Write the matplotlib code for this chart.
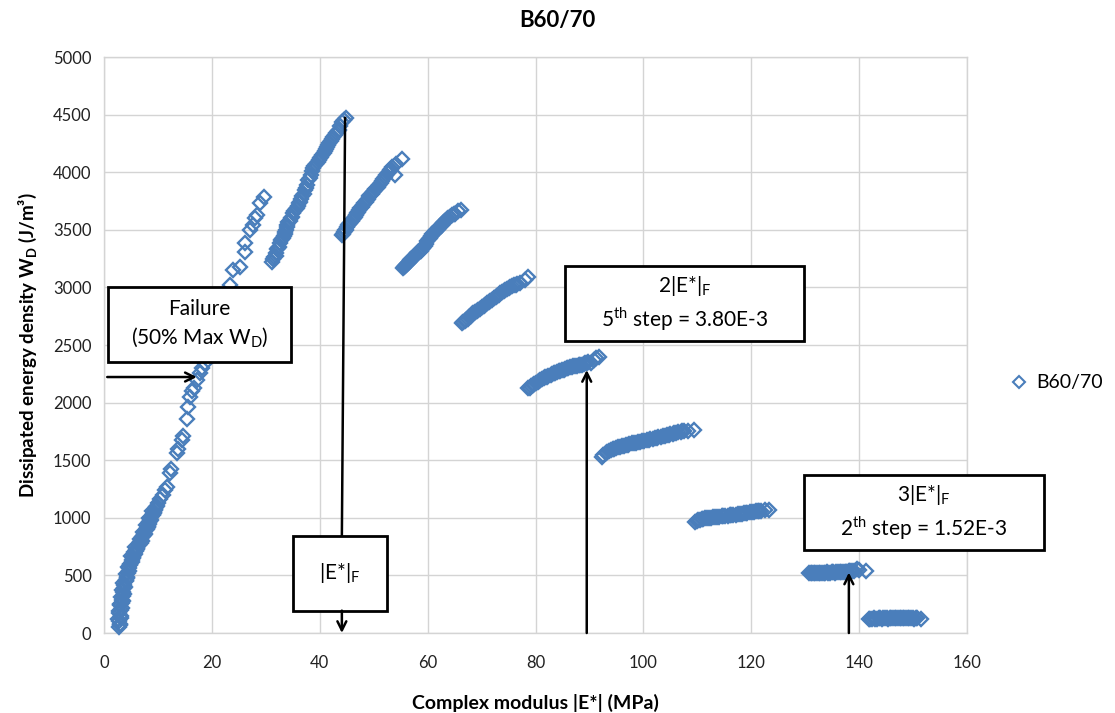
import matplotlib
matplotlib.use("Agg")
import matplotlib.pyplot as plt
from matplotlib.patches import Rectangle
from matplotlib.lines import Line2D

plt.rcParams['font.family'] = ['Lato', 'DejaVu Sans']

# ---- data (complex modulus |E*| in MPa, dissipated energy density W_D in J/m3) ----
seg1_E = [2.7, 3.0, 2.6, 3.1, 2.8, 3.3, 2.9, 3.5, 3.2, 3.7, 3.4, 3.9, 3.6, 4.1, 4.3, 4.0, 4.6, 4.4,
          4.9, 5.1, 5.4, 5.0, 5.7, 5.9, 6.2, 5.8, 6.5, 6.8, 7.1, 6.7, 7.3, 7.6, 7.2, 7.9, 8.1, 7.8,
          8.4, 8.7, 8.3, 9.0, 9.2, 8.9, 9.5, 9.8, 10.1, 10.4, 10.9, 11.3, 11.6, 12.2, 12.5, 13.5,
          13.8, 14.4, 14.7, 15.3, 15.6, 15.9, 16.3, 16.6, 17.2, 17.8, 18.2, 18.7, 19.6, 20.5, 21.4,
          22.3, 23.4, 24.0, 25.2, 26.2, 26.2, 27.1, 27.7, 28.0, 28.3, 28.9, 29.6,
          2.9, 2.8, 3.2, 2.7, 3.1, 3.0, 3.4, 3.3, 3.6, 3.5, 3.8, 3.7, 4.0, 4.2, 4.5, 4.7, 4.8, 5.2,
          5.3, 5.6, 5.5, 6.0, 6.1, 6.4, 6.6, 6.9, 7.0, 7.4, 7.5, 7.7, 8.0, 8.2, 8.3, 8.6, 8.5, 8.8,
          9.1, 9.3, 9.4, 9.7]
seg1_W = [50, 80, 120, 150, 190, 220, 250, 280, 310, 340, 370, 400, 430, 460, 490, 510, 540, 570,
          600, 630, 650, 670, 690, 710, 730, 750, 760, 780, 800, 820, 840, 860, 880, 900, 920, 940,
          960, 980, 1000, 1020, 1040, 1060, 1080, 1100, 1130, 1160, 1200, 1240, 1270, 1390, 1420, 1560,
          1600, 1675, 1710, 1860, 1965, 2050, 2100, 2125, 2200, 2255, 2300, 2340, 2480, 2620, 2760,
          2900, 3021, 3151, 3180, 3310, 3388, 3498, 3542, 3602, 3628, 3730, 3788,
          70, 100, 130, 170, 200, 240, 260, 290, 320, 360, 390, 420, 450, 480, 520, 560, 590, 620,
          660, 680, 700, 720, 740, 770, 790, 810, 830, 850, 870, 890, 910, 930, 950, 970, 990, 1010,
          1030, 1050, 1070, 1090]

seg2_E = [31.2, 31.6, 31.9, 32.3, 32.7, 33.0, 33.3, 33.6, 33.9, 34.2, 34.6, 35.1, 35.6, 36.0, 36.4,
          36.8, 37.3, 37.6, 37.9, 38.3, 38.8, 39.3, 39.8, 40.2, 40.7, 41.2, 41.6, 42.0, 42.5, 43.0,
          43.5, 43.8, 44.1, 44.5, 44.9,
          31.4, 31.8, 32.1, 32.5, 32.9, 33.2, 33.5, 33.8, 34.0, 34.4, 34.9, 35.3, 35.8, 36.2, 36.6,
          37.0, 37.5, 38.1, 38.6, 39.0, 39.6, 40.0, 40.5, 41.0, 41.4, 41.8, 42.3, 42.8, 43.3]
seg2_W = [3223, 3260, 3300, 3340, 3385, 3420, 3450, 3484, 3520, 3570, 3600, 3642, 3680, 3710, 3744,
          3790, 3845, 3890, 3932, 3980, 4034, 4070, 4106, 4135, 4164, 4200, 4236, 4270, 4308, 4340,
          4366, 4400, 4438, 4455, 4473,
          3250, 3270, 3330, 3350, 3410, 3430, 3460, 3500, 3545, 3580, 3615, 3665, 3690, 3730, 3770,
          3815, 3860, 3950, 4010, 4055, 4085, 4120, 4150, 4180, 4215, 4255, 4290, 4320, 4355]

seg3_E = [44.2, 44.5, 44.9, 45.3, 45.7, 46.1, 46.5, 46.9, 47.3, 47.8, 48.2, 48.7, 49.2, 49.6, 50.1,
          50.6, 51.0, 51.5, 52.1, 52.6, 53.0, 53.4, 54.0, 54.2, 55.2,
          44.4, 44.7, 45.1, 45.5, 45.9, 46.3, 46.7, 47.1, 47.5, 48.0, 48.5, 48.9, 49.4, 49.9, 50.3,
          50.8, 51.3, 51.8, 52.3, 52.8, 53.2]
seg3_W = [3455, 3480, 3500, 3542, 3560, 3590, 3615, 3642, 3670, 3700, 3730, 3759, 3790, 3815, 3840,
          3860, 3890, 3920, 3961, 3990, 4015, 4048, 3976, 4070, 4111,
          3465, 3495, 3520, 3550, 3580, 3600, 3630, 3655, 3685, 3715, 3745, 3770, 3805, 3830, 3850,
          3875, 3905, 3940, 3975, 4000, 4030]

seg4_E = [55.5, 55.8, 56.2, 56.6, 57.0, 57.4, 57.8, 58.3, 58.7, 59.2, 59.7, 60.2, 60.6, 61.1, 61.6,
          62.0, 62.4, 62.9, 63.3, 63.8, 64.5, 65.0, 65.6, 66.2,
          55.7, 56.0, 56.4, 56.8, 57.2, 57.6, 58.0, 58.5, 59.0, 59.5, 59.9, 60.4, 60.9, 61.3, 61.8,
          62.2, 62.7, 63.1, 63.6, 64.1, 64.8]
seg4_W = [3165, 3185, 3200, 3220, 3245, 3267, 3285, 3310, 3320, 3339, 3380, 3420, 3445, 3469, 3495,
          3510, 3530, 3556, 3580, 3600, 3628, 3640, 3660, 3672,
          3175, 3195, 3210, 3235, 3255, 3275, 3300, 3315, 3330, 3360, 3400, 3430, 3460, 3480, 3500,
          3520, 3545, 3570, 3590, 3615, 3635]

seg5_E = [66.4, 66.9, 67.4, 68.0, 68.5, 69.1, 69.7, 70.4, 71.0, 71.6, 72.3, 72.9, 73.5, 74.1, 74.7,
          75.3, 76.0, 76.6, 77.2, 78.0, 78.7,
          66.6, 67.1, 67.7, 68.3, 68.8, 69.4, 70.0, 70.7, 71.3, 72.0, 72.6, 73.2, 73.8, 74.4, 75.0,
          75.6, 76.3]
seg5_W = [2694, 2710, 2730, 2755, 2775, 2795, 2815, 2840, 2861, 2880, 2905, 2925, 2949, 2965, 2985,
          3006, 3020, 3030, 3041, 3065, 3093,
          2700, 2720, 2745, 2765, 2785, 2805, 2828, 2850, 2870, 2892, 2915, 2938, 2957, 2975, 2995,
          3012, 3025]

seg6_E = [78.7, 79.2, 79.8, 80.4, 80.9, 81.5, 82.1, 82.8, 83.4, 84.0, 84.6, 85.2, 85.8, 86.4, 87.0,
          87.7, 88.3, 88.9, 89.5, 90.2, 90.8, 91.2, 91.7,
          78.9, 79.5, 80.1, 80.6, 81.2, 81.8, 82.4, 83.1, 83.7, 84.3, 84.9, 85.5, 86.1, 86.7, 87.3,
          88.0, 88.6, 89.2, 89.8]
seg6_W = [2124, 2140, 2160, 2180, 2196, 2210, 2225, 2240, 2254, 2265, 2275, 2287, 2297, 2305, 2315,
          2320, 2326, 2335, 2345, 2341, 2370, 2385, 2398,
          2130, 2150, 2170, 2188, 2203, 2218, 2233, 2247, 2260, 2270, 2281, 2292, 2301, 2310, 2318,
          2323, 2330, 2340, 2350]

seg7_E = [92.3, 93.0, 93.7, 94.3, 95.0, 95.7, 96.4, 97.1, 97.8, 98.6, 99.4, 100.2, 101.0, 101.7,
          102.5, 103.2, 104.0, 104.7, 105.4, 106.1, 106.9, 107.6, 108.3, 109.3,
          92.6, 93.3, 94.0, 94.6, 95.3, 96.0, 96.7, 97.4, 98.2, 99.0, 99.8, 100.6, 101.3, 102.1,
          102.8, 103.6, 104.3, 105.0, 105.7, 106.5, 107.2]
seg7_W = [1530, 1560, 1580, 1595, 1605, 1617, 1625, 1635, 1645, 1652, 1661, 1668, 1678, 1688,
          1696, 1704, 1712, 1720, 1730, 1738, 1747, 1752, 1757, 1762,
          1545, 1570, 1588, 1600, 1611, 1621, 1630, 1640, 1648, 1656, 1664, 1673, 1683, 1692,
          1700, 1708, 1716, 1725, 1734, 1742, 1750]

seg8_E = [109.6, 110.2, 110.8, 111.5, 112.2, 113.0, 113.7, 114.5, 115.2, 116.0, 116.7, 117.5, 118.3,
          119.0, 119.7, 120.5, 121.2, 121.8, 122.5, 123.2,
          109.9, 110.5, 111.1, 111.8, 112.6, 113.3, 114.1, 114.8, 115.6, 116.3, 117.1, 117.9, 118.6,
          119.3, 120.1, 120.8, 121.5]
seg8_W = [966, 980, 988, 995, 1000, 1004, 1008, 1013, 1017, 1021, 1024, 1030, 1036, 1042, 1048,
          1053, 1058, 1062, 1065, 1068,
          972, 985, 990, 998, 1002, 1006, 1010, 1015, 1019, 1022, 1027, 1033, 1039, 1045, 1050,
          1055, 1060]

seg9_E = [130.7, 131.3, 131.9, 132.5, 133.1, 133.7, 134.3, 134.9, 135.5, 136.1, 136.7, 137.3, 137.8,
          138.4, 139.0, 139.6, 140.0, 141.2,
          131.0, 131.6, 132.2, 132.8, 133.4, 134.0, 134.6, 135.2, 135.8, 136.4, 137.0, 137.6, 138.1,
          138.7]
seg9_W = [518, 522, 520, 524, 521, 525, 523, 527, 525, 529, 527, 531, 532, 535, 540, 553, 545, 538,
          520, 523, 521, 525, 522, 526, 524, 528, 526, 530, 528, 532, 534, 537]

seg10_E = [141.8, 142.4, 143.0, 143.6, 144.2, 144.8, 145.4, 146.0, 146.6, 147.2, 147.8, 148.4, 149.0,
           149.6, 150.2, 150.8, 151.5,
           142.1, 142.7, 143.3, 143.9, 144.5, 145.1, 145.7, 146.3, 146.9, 147.5, 148.1, 148.7, 149.3,
           149.9, 150.5]
seg10_W = [120, 125, 122, 127, 124, 128, 125, 129, 126, 130, 127, 129, 126, 128, 125, 127, 124,
           122, 127, 124, 129, 126, 130, 127, 131, 128, 131, 128, 130, 127, 129, 126]

E_all = seg1_E + seg2_E + seg3_E + seg4_E + seg5_E + seg6_E + seg7_E + seg8_E + seg9_E + seg10_E
W_all = seg1_W + seg2_W + seg3_W + seg4_W + seg5_W + seg6_W + seg7_W + seg8_W + seg9_W + seg10_W

x_ticks = [0, 20, 40, 60, 80, 100, 120, 140, 160]
y_ticks = [0, 500, 1000, 1500, 2000, 2500, 3000, 3500, 4000, 4500, 5000]

series_name = "B60/70"
blue = "#4A7EBB"
grid_c = "#D4D4D4"

fig = plt.figure(figsize=(11.15, 7.13), dpi=100)
ax = fig.add_axes([104 / 1115, 80 / 713, (967 - 104) / 1115, (633 - 57) / 713])

ax.plot(E_all, W_all, linestyle='none', marker='D', markersize=7.4, markerfacecolor='none',
        markeredgecolor=blue, markeredgewidth=1.7, zorder=3, clip_on=False)

ax.set_xlim(0, 160)
ax.set_ylim(0, 5000)
ax.set_xticks(x_ticks)
ax.set_yticks(y_ticks)
ax.grid(True, color=grid_c, linewidth=1.0, zorder=0)
ax.set_axisbelow(True)
for s in ax.spines.values():
    s.set_color(grid_c)
    s.set_linewidth(1.0)
ax.tick_params(length=0, labelsize=12, colors='#222222')
ax.tick_params(axis='x', pad=16)
ax.tick_params(axis='y', pad=9)

ax.set_xlabel("Complex modulus |E*| (MPa)", fontsize=14, fontweight='bold', labelpad=16)
ax.set_ylabel("Dissipated energy density W$_\\mathregular{D}$ (J/m³)", fontsize=13.5,
              fontweight='bold', labelpad=10)
fig.text(0.5, 1 - 20 / 713, "B60/70", ha='center', va='center', fontsize=16, fontweight='bold')

# ---- annotations ----
def box(x0, x1, y0, y1):
    ax.add_patch(Rectangle((x0, y0), x1 - x0, y1 - y0, facecolor='white', edgecolor='black',
                           linewidth=2.0, zorder=5, clip_on=False))

def arrow(x0, y0, x1, y1):
    ax.annotate("", xy=(x1, y1), xytext=(x0, y0),
                arrowprops=dict(arrowstyle='->', color='black', lw=1.8, mutation_scale=16,
                                shrinkA=0, shrinkB=0), zorder=6, annotation_clip=False)

# Failure box
box(0.8, 34.6, 2350, 3001)
ax.text(17.7, 2675, "Failure\n(50% Max W$_\\mathregular{D}$)", ha='center', va='center',
        fontsize=15, zorder=7, linespacing=1.35)
arrow(0.6, 2222, 17.2, 2222)

# |E*|_F
ax.plot([44.7, 44.1], [4470, 845], color='black', lw=1.8, zorder=6)
box(35.0, 52.5, 194, 845)
ax.text(43.75, 520, "|E*|$_\\mathregular{F}$", ha='center', va='center', fontsize=15, zorder=7)
arrow(44.1, 194, 44.1, 0)

# 2|E*|_F
box(85.5, 129.7, 2535, 3186)
ax.text(107.6, 2860, "2|E*|$_\\mathregular{F}$\n5$^\\mathregular{th}$ step = 3.80E-3",
        ha='center', va='center', fontsize=15, zorder=7, linespacing=1.35)
arrow(89.5, 0, 89.5, 2283)

# 3|E*|_F
box(129.7, 174.2, 720, 1372)
ax.text(151.95, 1046, "3|E*|$_\\mathregular{F}$\n2$^\\mathregular{th}$ step = 1.52E-3",
        ha='center', va='center', fontsize=15, zorder=7, linespacing=1.35)
arrow(138.1, 0, 138.1, 525)

# legend
h = Line2D([], [], linestyle='none', marker='D', markersize=6.5, markerfacecolor='none',
           markeredgecolor=blue, markeredgewidth=1.5)
fig.legend([h], [series_name], loc='center left', bbox_to_anchor=(1003 / 1115, 1 - 383 / 713),
           frameon=False, fontsize=14, handlelength=0.8, handletextpad=0.5, borderaxespad=0)

fig.savefig("out.png", dpi=100)
